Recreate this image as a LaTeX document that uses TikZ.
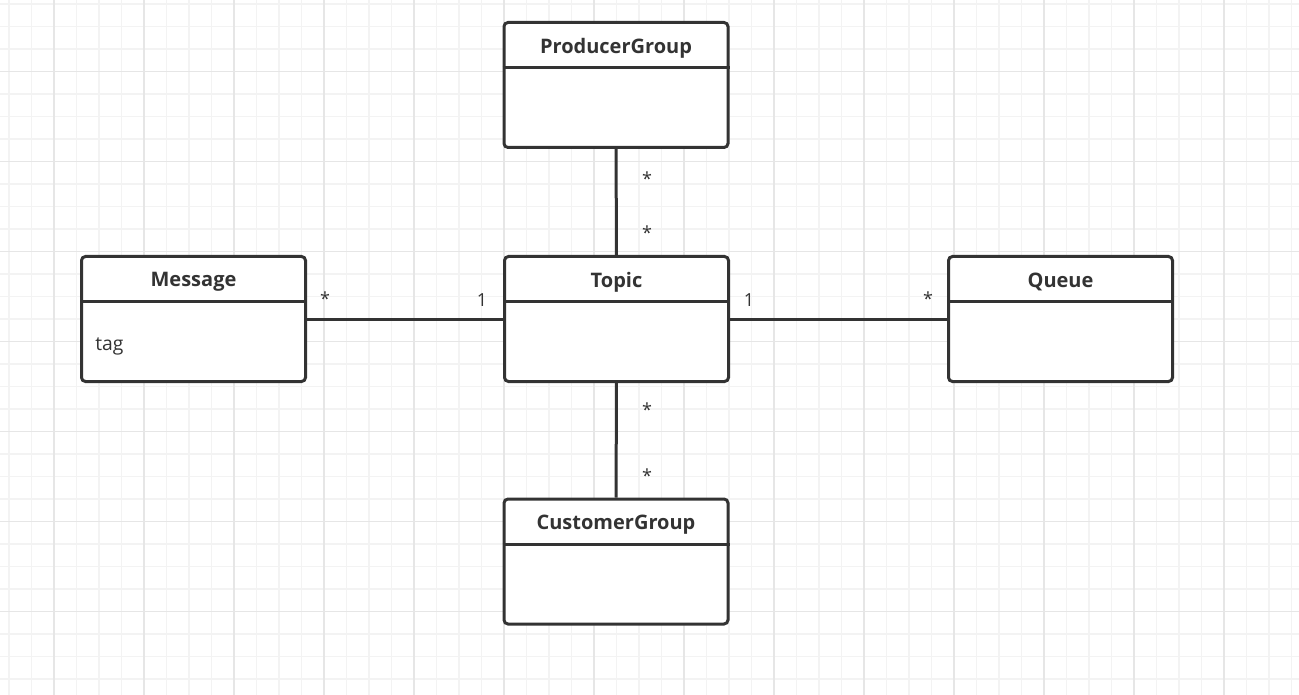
\documentclass[tikz,border=0pt]{standalone}
\usepackage{fontspec}
\setmainfont{Open Sans}
\usetikzlibrary{calc}
\definecolor{ink}{HTML}{333333}
\definecolor{gridminor}{HTML}{F3F3F3}
\definecolor{gridmajor}{HTML}{E6E6E6}
\tikzset{
  classbox/.style={draw=ink, line width=2.25pt, rounded corners=3pt, fill=white,
    minimum width=168pt, minimum height=93.75pt, inner sep=0pt},
  classtitle/.style={text=ink, font=\fontsize{15}{17}\selectfont\bfseries, inner sep=0pt},
  attr/.style={text=ink, font=\fontsize{14.5}{16}\selectfont, inner sep=0pt, anchor=west},
  mult/.style={text=ink, font=\fontsize{13.5}{15}\selectfont, inner sep=0pt},
  assoc/.style={draw=ink, line width=2.25pt},
  divider/.style={draw=ink, line width=2.25pt},
}
\begin{document}
\begin{tikzpicture}[x=0.75pt,y=-0.75pt]
\useasboundingbox (0,0) rectangle (1299,695);
\fill[white] (0,0) rectangle (1299,695);
% grid
\foreach \i in {0,...,57} {\draw[gridminor, line width=0.9pt] ({9+22.5*\i},0) -- ({9+22.5*\i},695);}
\foreach \j in {0,...,30} {\draw[gridminor, line width=0.9pt] (0,{4+22.5*\j}) -- (1299,{4+22.5*\j});}
\foreach \i in {0,...,14} {\draw[gridmajor, line width=1.1pt] ({54+90*\i},0) -- ({54+90*\i},695);}
\foreach \j in {0,...,7} {\draw[gridmajor, line width=1.1pt] (0,{71.5+90*\j}) -- (1299,{71.5+90*\j});}
% classes
\node[classbox] (pg) at (616,85) {};
\node[classbox] (msg) at (193.5,319) {};
\node[classbox] (topic) at (616.5,319) {};
\node[classbox] (queue) at (1060.5,319) {};
\node[classbox] (cg) at (616,561.5) {};
\foreach \n/\t in {pg/ProducerGroup, msg/Message, topic/Topic, queue/Queue, cg/CustomerGroup} {
  \draw[divider] ($(\n.north west)+(0,46.5)$) -- ($(\n.north east)+(0,46.5)$);
  \node[classtitle] (\n-title) at ($(\n.north)+(0,27)$) {\t};
}
\node[attr] (msg-tag) at ($(msg.north west)+(15,91)$) {tag};
% associations
\draw[assoc] (pg) -- (topic);
\draw[assoc] (topic) -- (cg);
\draw[assoc] (msg) -- (topic);
\draw[assoc] (topic) -- (queue);
% multiplicities
\node[mult] (m1) at (647,179) {*};
\node[mult] (m2) at (647,233) {*};
\node[mult] (m3) at (647,410) {*};
\node[mult] (m4) at (647,476) {*};
\node[mult] (m5) at (325,299) {*};
\node[mult] (m6) at (482,300) {1};
\node[mult] (m7) at (749,300) {1};
\node[mult] (m8) at (928,299) {*};
\end{tikzpicture}
\end{document}
